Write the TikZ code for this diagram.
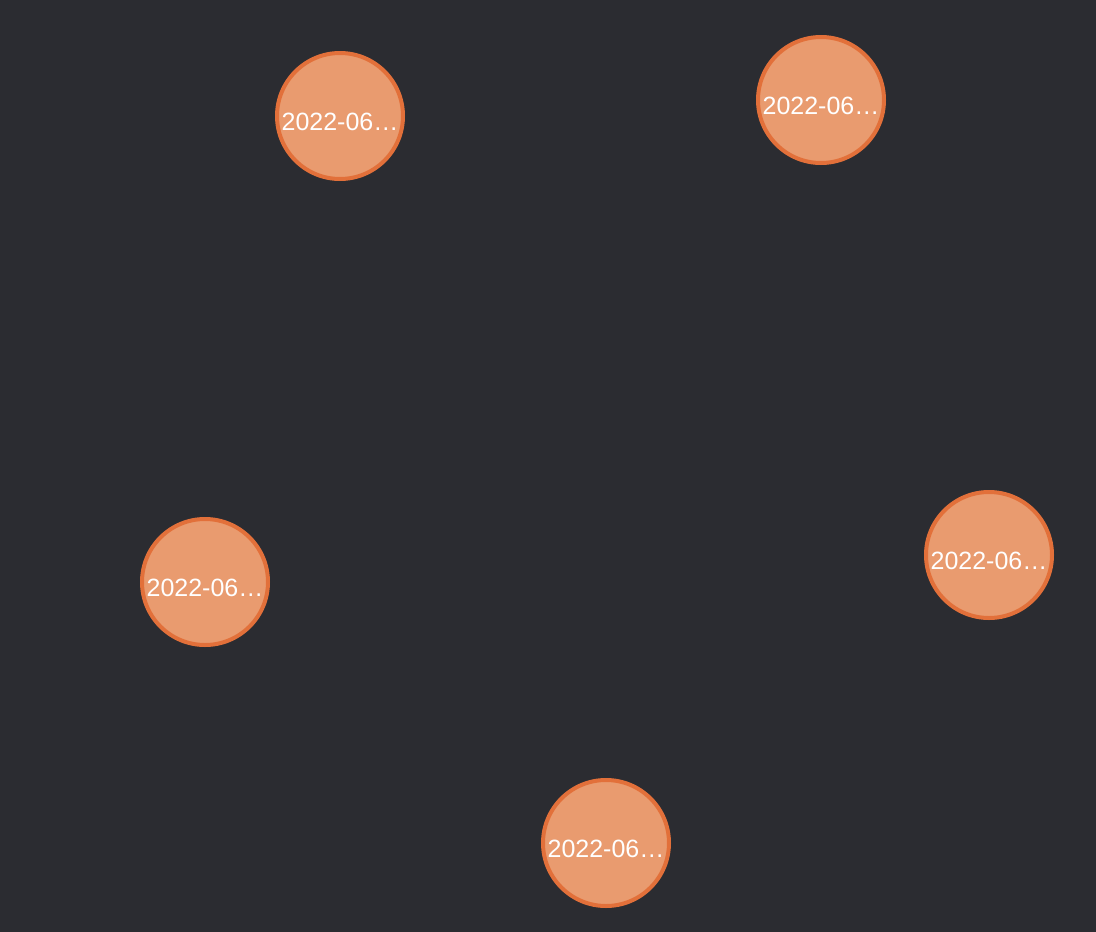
\documentclass[tikz,border=0pt]{standalone}
\usepackage{fontspec}
\setmainfont{Liberation Sans}
\definecolor{bgdark}{HTML}{2B2C31}
\definecolor{datefill}{HTML}{E99B6F}
\definecolor{dateline}{HTML}{E2703A}
\newcommand{\datelabel}{\raisebox{-14pt}[0pt][0pt]{2022-06\ldots}}
\tikzset{
  datenode/.style={circle, fill=datefill, draw=dateline, line width=4pt, minimum size=126pt, inner sep=0pt, text=white, font=\fontsize{25}{25}\selectfont}
}
\begin{document}
\begin{tikzpicture}[x=1pt, y=-1pt]
			\fill[bgdark] (0,0) rectangle (1096,932);
			\useasboundingbox (0,0) rectangle (1096,932);
			\node[datenode] (d1) at (340,116) {\datelabel};
			\node[datenode] (d2) at (821,100) {\datelabel};
			\node[datenode] (d3) at (205,582) {\datelabel};
			\node[datenode] (d4) at (989,555) {\datelabel};
			\node[datenode] (d5) at (606,843) {\datelabel};
		\end{tikzpicture}
\end{document}
